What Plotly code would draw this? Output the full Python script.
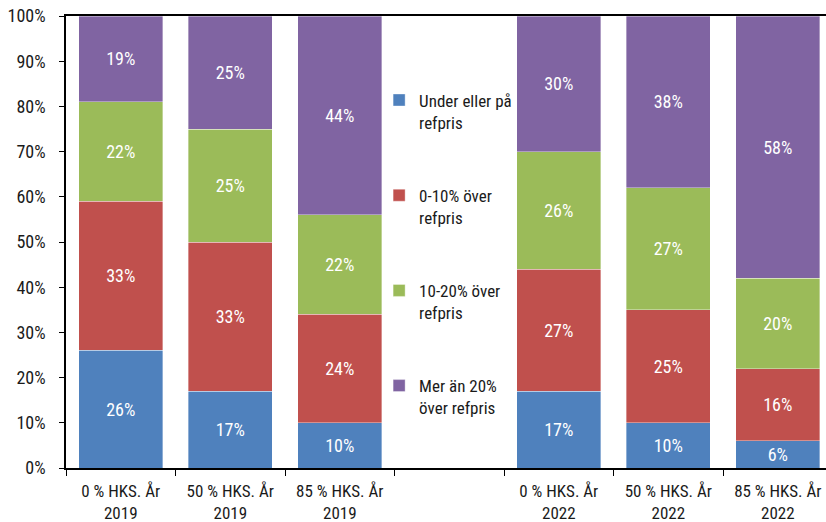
import plotly.graph_objects as go

categories = ["0 % HKS. År<br>2019", "50 % HKS. År<br>2019", "85 % HKS. År<br>2019", " ",
              "0 % HKS. År<br>2022", "50 % HKS. År<br>2022", "85 % HKS. År<br>2022"]
series_names = ["Under eller på<br>refpris", "0-10% över<br>refpris",
                "10-20% över<br>refpris", "Mer än 20%<br>över refpris"]
under = [26, 17, 10, None, 17, 10, 6]
p0_10 = [33, 33, 24, None, 27, 25, 16]
p10_20 = [22, 25, 22, None, 26, 27, 20]
over20 = [19, 25, 44, None, 30, 38, 58]
colors = ["#4F81BD", "#C0504D", "#9BBB59", "#8064A2"]
y_ticks = [0, 10, 20, 30, 40, 50, 60, 70, 80, 90, 100]

FONT = "Roboto Condensed, DejaVu Sans Condensed, sans-serif"

fig = go.Figure()
for i, (name, vals) in enumerate(zip(series_names, [under, p0_10, p10_20, over20])):
    fig.add_trace(go.Bar(
        x=categories, y=vals, name=name, legendgroup=f"g{i}", legendrank=i + 1,
        marker=dict(color=colors[i], line=dict(width=0.6, color="rgba(255,255,255,0.6)")),
        text=[f"{v}%" if v is not None else "" for v in vals],
        textposition="inside", insidetextanchor="middle", constraintext="none",
        textfont=dict(color="white", size=18, family=FONT),
        hoverinfo="skip",
    ))

fig.update_layout(
    width=826, height=522,
    barmode="stack", bargap=0.23,
    margin=dict(l=66, r=0, t=16, b=54),
    plot_bgcolor="white", paper_bgcolor="white",
    font=dict(family=FONT, size=17, color="#1a1a1a"),
    uniformtext=dict(minsize=17, mode="show"),
    legend=dict(x=0.412, y=0.853, xanchor="left", yanchor="top", valign="top",
                traceorder="grouped", tracegroupgap=48,
                font=dict(size=17, family=FONT), bgcolor="rgba(0,0,0,0)",
                itemwidth=30),
    xaxis=dict(type="category", categoryorder="array", categoryarray=categories,
               range=[-0.5, 6.44], tickson="boundaries", ticks="outside", ticklen=6,
               tickcolor="black", showline=True, linecolor="black", linewidth=1.5,
               mirror=True, showgrid=False, tickfont=dict(size=17), automargin=False,
               ticklabelstandoff=7),
    yaxis=dict(range=[0, 100], tickvals=y_ticks, ticktext=[f"{v}%" for v in y_ticks],
               ticks="outside", ticklen=5, tickcolor="black", showline=True,
               linecolor="black", linewidth=1.5, showgrid=False, zeroline=False,
               tickfont=dict(size=18), ticklabelstandoff=10, automargin=False),
)

fig.write_html("out.html", config={"displayModeBar": False},
               post_script="document.body.style.margin='0';")
